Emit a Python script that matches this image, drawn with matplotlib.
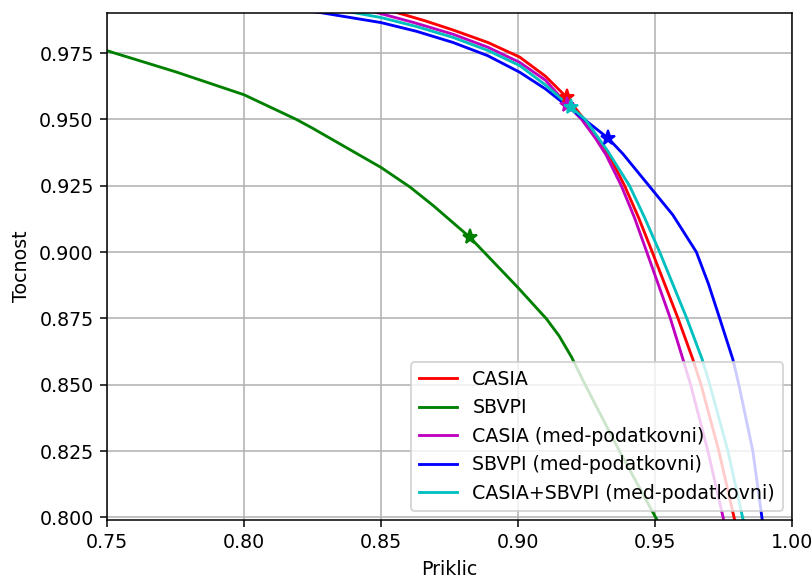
import numpy as np
import matplotlib
matplotlib.use("Agg")
import matplotlib.pyplot as plt

# Krivulje natancnost / priklic za posamezne modele
casia_r = [0.845, 0.8557, 0.8660, 0.8763, 0.8890, 0.9006, 0.9100, 0.9177,
           0.9238, 0.9290, 0.9330, 0.9389, 0.9440, 0.9490, 0.9584, 0.9638,
           0.9668, 0.9733, 0.9790, 0.9800]
casia_p = [0.9935, 0.9903, 0.9872, 0.9837, 0.9790, 0.9735, 0.9663, 0.9584,
           0.9505, 0.9430, 0.9370, 0.9250, 0.9130, 0.9000, 0.8750, 0.8596,
           0.8500, 0.8250, 0.7993, 0.7950]

sbvpi_r = [0.740, 0.750, 0.7752, 0.800, 0.8191, 0.825, 0.850, 0.8606, 0.8692,
           0.8823, 0.900, 0.9104, 0.9150, 0.9196, 0.9245, 0.9370, 0.9506,
           0.9520]
sbvpi_p = [0.9790, 0.9759, 0.9679, 0.9593, 0.9500, 0.9467, 0.9319, 0.9245,
           0.9174, 0.9057, 0.8866, 0.8748, 0.8684, 0.8603, 0.8500, 0.8250,
           0.7993, 0.7960]

casia_med_r = [0.840, 0.8484, 0.8620, 0.8763, 0.8890, 0.9006, 0.9100, 0.9180,
               0.9232, 0.9282, 0.9322, 0.9377, 0.9425, 0.9470, 0.9556, 0.9602,
               0.9630, 0.9693, 0.9750, 0.9760]
casia_med_p = [0.9928, 0.9903, 0.9865, 0.9821, 0.9772, 0.9715, 0.9648, 0.9555,
               0.9500, 0.9430, 0.9365, 0.9250, 0.9130, 0.9000, 0.8750, 0.8596,
               0.8500, 0.8250, 0.7993, 0.7950]

sbvpi_med_r = [0.815, 0.8277, 0.8500, 0.8630, 0.8763, 0.8890, 0.9006, 0.9100,
               0.9242, 0.9328, 0.9383, 0.9478, 0.9565, 0.9651, 0.9695, 0.9736,
               0.9784, 0.9806, 0.9857, 0.9891, 0.9900]
sbvpi_med_p = [0.9920, 0.9903, 0.9865, 0.9832, 0.9790, 0.9740, 0.9678, 0.9615,
               0.9500, 0.9430, 0.9370, 0.9250, 0.9140, 0.9000, 0.8880, 0.8750,
               0.8596, 0.8500, 0.8250, 0.7993, 0.7950]

oba_med_r = [0.830, 0.8398, 0.8500, 0.8630, 0.8763, 0.8890, 0.9006, 0.9100,
             0.9195, 0.9245, 0.9326, 0.9407, 0.9462, 0.9517, 0.9616, 0.9672,
             0.9700, 0.9766, 0.9821, 0.9830]
oba_med_p = [0.9920, 0.9903, 0.9884, 0.9850, 0.9809, 0.9760, 0.9703, 0.9630,
             0.9545, 0.9500, 0.9383, 0.9250, 0.9130, 0.9000, 0.8750, 0.8596,
             0.8500, 0.8250, 0.7993, 0.7950]

# Izbrane delovne tocke (zvezdice)
best_r = [0.9177, 0.8823, 0.9180, 0.9328, 0.9195]
best_p = [0.9584, 0.9057, 0.9555, 0.9430, 0.9545]

labels = ["CASIA", "SBVPI", "CASIA (med-podatkovni)",
          "SBVPI (med-podatkovni)", "CASIA+SBVPI (med-podatkovni)"]
barve = ["r", "g", "m", "b", "c"]
krivulje = [(casia_r, casia_p), (sbvpi_r, sbvpi_p),
            (casia_med_r, casia_med_p), (sbvpi_med_r, sbvpi_med_p),
            (oba_med_r, oba_med_p)]

dpi = 136.9
fig = plt.figure(figsize=(811 / dpi, 578 / dpi), dpi=dpi)
ax = fig.add_axes([0.1319, 0.1003, 0.8447, 0.8767])

for (r, p), c, lab in zip(krivulje, barve, labels):
    ax.plot(r, p, color=c, label=lab)
for r, p, c in zip(best_r, best_p, barve):
    ax.plot(r, p, c + "*", markersize=8)

ax.set_xlim(0.75, 1.00)
ax.set_ylim(0.799, 0.990)
ax.set_xticks(np.arange(0.75, 1.001, 0.05))
ax.set_yticks(np.arange(0.800, 0.976, 0.025))
ax.set_xlabel("Priklic")
ax.set_ylabel("Tocnost")
ax.grid(True)
ax.legend(loc="lower right")
fig.savefig("out.png", dpi=dpi)
